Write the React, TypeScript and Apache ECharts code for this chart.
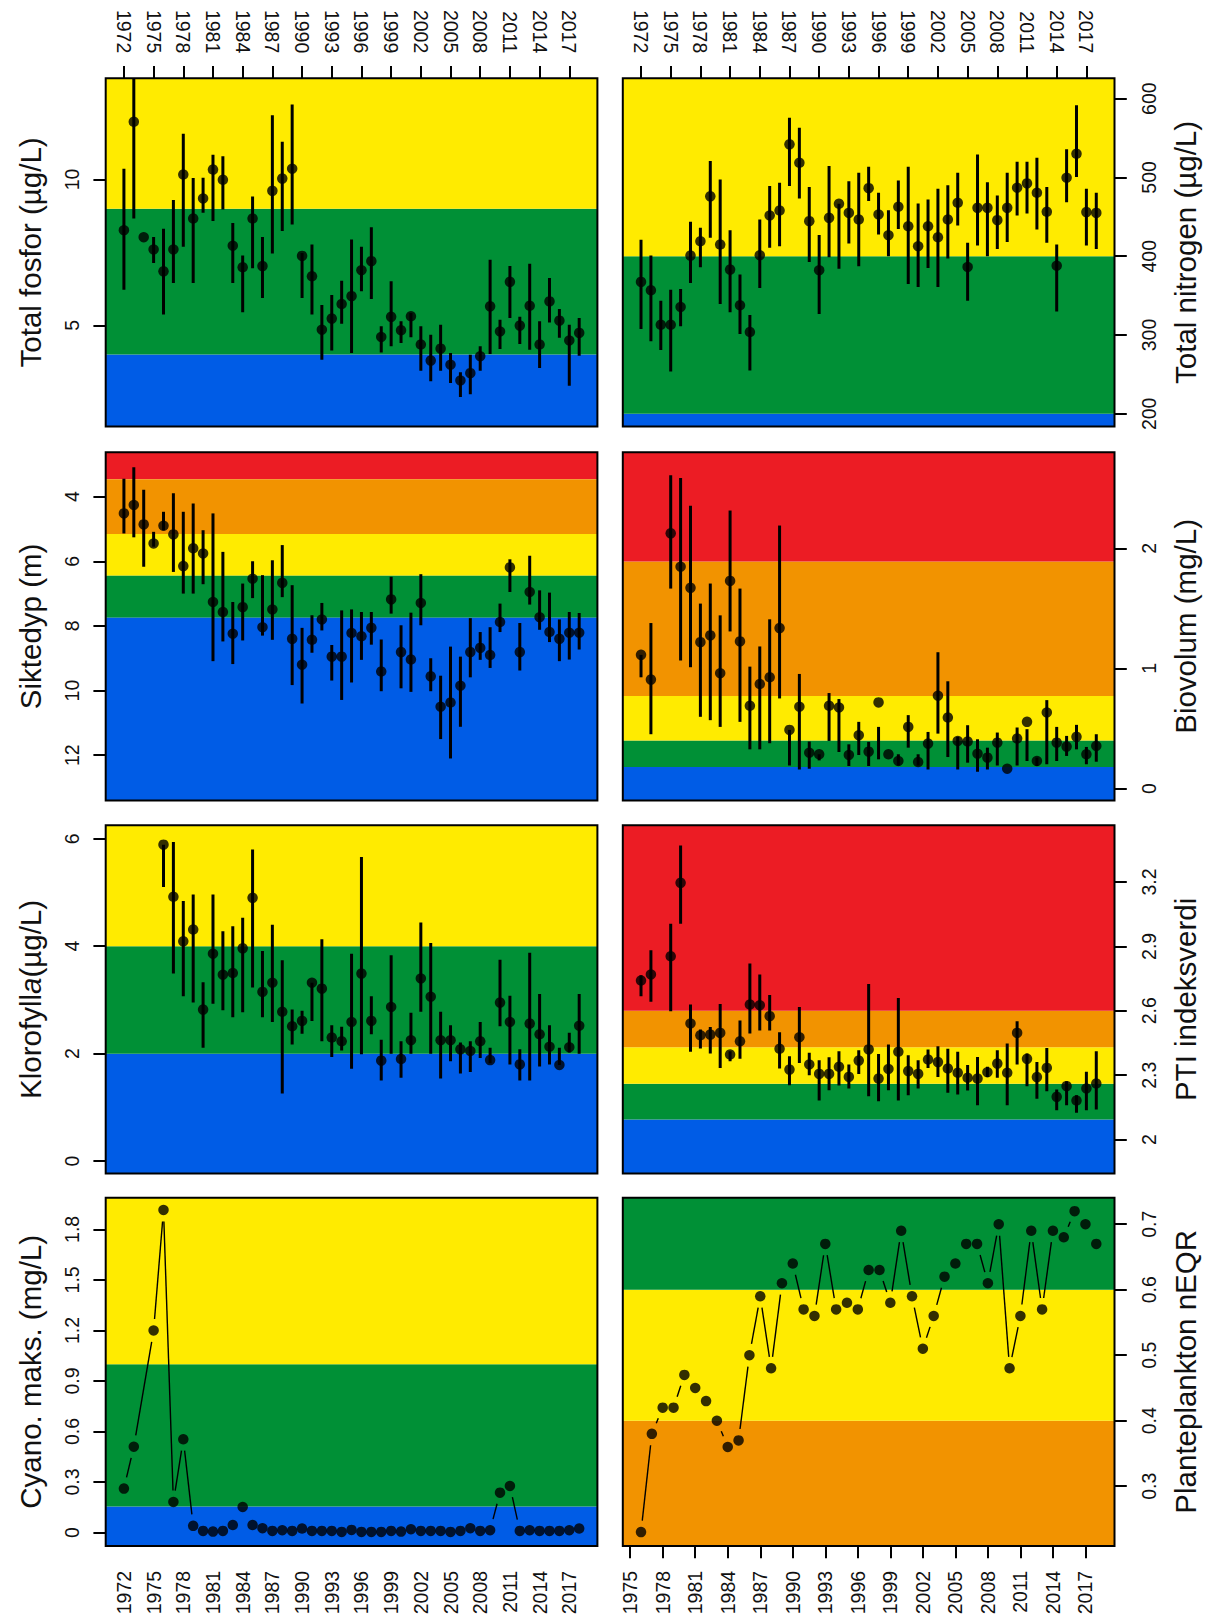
import React, { useEffect, useRef } from "react";
import * as echarts from "echarts";

const BLUE = "#005CE6";
const GREEN = "#009036";
const YELLOW = "#FFEB00";
const ORANGE = "#F29300";
const RED = "#EC1C24";
const FONT = "'Liberation Sans', Arial, Helvetica, sans-serif";

// ---------- years ----------
const yearsFull = [1972, 1973, 1974, 1975, 1976, 1977, 1978, 1979, 1980, 1981, 1982, 1983, 1984, 1985, 1986, 1987, 1988, 1989, 1990, 1991, 1992, 1993, 1994, 1995, 1996, 1997, 1998, 1999, 2000, 2001, 2002, 2003, 2004, 2005, 2006, 2007, 2008, 2009, 2010, 2011, 2012, 2013, 2014, 2015, 2016, 2017, 2018];
const yearsNo1974 = [1972, 1973, 1975, 1976, 1977, 1978, 1979, 1980, 1981, 1982, 1983, 1984, 1985, 1986, 1987, 1988, 1989, 1990, 1991, 1992, 1993, 1994, 1995, 1996, 1997, 1998, 1999, 2000, 2001, 2002, 2003, 2004, 2005, 2006, 2007, 2008, 2009, 2010, 2011, 2012, 2013, 2014, 2015, 2016, 2017, 2018];
const yearsFrom1976 = [1976, 1977, 1978, 1979, 1980, 1981, 1982, 1983, 1984, 1985, 1986, 1987, 1988, 1989, 1990, 1991, 1992, 1993, 1994, 1995, 1996, 1997, 1998, 1999, 2000, 2001, 2002, 2003, 2004, 2005, 2006, 2007, 2008, 2009, 2010, 2011, 2012, 2013, 2014, 2015, 2016, 2017, 2018];

const yearTicks = [1972, 1975, 1978, 1981, 1984, 1987, 1990, 1993, 1996, 1999, 2002, 2005, 2008, 2011, 2014, 2017];
const eqrYearTicks = [1975, 1978, 1981, 1984, 1987, 1990, 1993, 1996, 1999, 2002, 2005, 2008, 2011, 2014, 2017];

// ---------- Total fosfor ----------
const tpMean = [8.26, 11.98, 8.02, 7.6, 6.85, 7.6, 10.17, 8.66, 9.35, 10.34, 9.99, 7.73, 6.99, 8.66, 7.03, 9.61, 10.03, 10.37, 7.38, 6.68, 4.85, 5.23, 5.73, 6.0, 6.89, 7.2, 4.6, 5.29, 4.83, 5.31, 4.34, 3.79, 4.2, 3.65, 3.11, 3.36, 3.94, 5.65, 4.79, 6.49, 4.99, 5.67, 4.34, 5.82, 5.16, 4.48, 4.74];
const tpHi = [10.37, 14.5, 8.02, 8.03, 8.31, 9.3, 11.57, 10.05, 10.06, 10.85, 10.8, 8.51, 7.39, 9.42, 8.03, 12.2, 11.29, 12.57, 7.48, 7.77, 5.7, 6.04, 6.53, 7.94, 7.69, 8.36, 4.97, 6.51, 5.14, 5.42, 4.97, 4.68, 5.02, 4.05, 3.39, 3.99, 4.28, 7.25, 5.19, 7.03, 5.29, 7.11, 5.14, 6.62, 5.56, 5.02, 5.25];
const tpLo = [6.22, 8.66, 8.02, 7.14, 5.37, 6.45, 7.69, 6.45, 8.86, 8.58, 8.97, 6.45, 5.45, 6.96, 5.94, 7.46, 8.23, 8.46, 5.94, 5.37, 3.82, 4.14, 5.05, 4.05, 6.17, 5.9, 4.07, 4.28, 4.39, 4.59, 3.44, 3.08, 3.44, 3.02, 2.54, 2.64, 3.44, 4.02, 4.19, 5.25, 4.36, 4.16, 3.54, 5.1, 4.57, 2.93, 3.96];
const tpTicks = [5, 10];
const tpBreaks = [4, 9];

// ---------- Total nitrogen ----------
const tnMean = [367.4, 356.8, 313, 313, 335.6, 400.8, 419, 476, 414.8, 383, 337.7, 303.8, 401.3, 451.7, 458, 542, 518.6, 444.5, 382.2, 448.7, 466.5, 455, 446.6, 486.4, 453, 426.7, 462.7, 438, 412.7, 438, 424, 446.6, 467.8, 386.4, 461.4, 461.4, 445.8, 461.4, 486.9, 492.4, 480.5, 456.4, 388, 499.6, 530, 456, 455];
const tnHi = [421, 400.8, 343.6, 357.6, 358.5, 443.6, 436, 520.8, 497.5, 433, 376.7, 325.4, 446.6, 489, 493.2, 575.8, 563, 487.7, 427, 514.4, 466.5, 495, 506, 513.6, 480.5, 458.5, 496, 513.6, 467, 472, 485.6, 490, 506, 417, 529, 494, 477, 506, 520, 520, 525, 487.7, 414.8, 535.6, 591.5, 485.6, 480.5];
const tnLo = [307.6, 292, 281, 253.8, 311, 366, 386, 423.3, 339.4, 328.8, 301.3, 255, 359.7, 410.6, 412.7, 489, 473.3, 392.8, 326.7, 398.7, 384, 416, 387.3, 470, 427.5, 400, 434.7, 364.8, 361, 385, 361, 397, 439, 343.6, 413.6, 400, 409.3, 418, 451.7, 454.2, 434, 417, 330, 468.6, 500.4, 413.6, 409.3];
const tnTicks = [200, 300, 400, 500, 600];
const tnBreaks = [200, 400];

// ---------- Siktedyp ----------
const sdMean = [4.52, 4.26, 4.86, 5.45, 4.9, 5.17, 6.15, 5.6, 5.76, 7.26, 7.57, 8.24, 7.42, 6.54, 8.04, 7.49, 6.67, 8.4, 9.2, 8.43, 7.8, 8.95, 8.95, 8.22, 8.32, 8.06, 9.41, 7.18, 8.81, 9.04, 7.29, 9.56, 10.5, 10.37, 9.85, 8.81, 8.68, 8.9, 7.88, 6.19, 8.81, 6.95, 7.73, 8.19, 8.4, 8.21, 8.21];
const sdTop = [3.45, 3.09, 3.79, 5.09, 4.47, 3.9, 4.47, 4.21, 5.04, 4.52, 5.71, 7.26, 6.69, 6.0, 6.43, 5.97, 5.5, 6.74, 8.06, 7.67, 7.29, 8.59, 7.52, 7.49, 7.57, 7.57, 8.42, 6.48, 7.98, 7.59, 6.4, 9.0, 9.54, 8.64, 8.95, 7.76, 8.19, 8.04, 7.31, 5.94, 7.91, 5.83, 6.9, 6.97, 7.8, 7.57, 7.6];
const sdBot = [5.14, 5.26, 6.17, 5.55, 5.04, 6.33, 7.0, 7.0, 6.71, 9.09, 8.48, 9.18, 8.45, 7.14, 8.3, 8.43, 7.11, 9.83, 10.4, 8.83, 8.14, 9.69, 10.29, 9.75, 9.05, 8.58, 10.02, 7.62, 9.93, 10.04, 7.98, 10.02, 11.5, 12.1, 11.12, 9.59, 9.05, 9.3, 8.19, 6.95, 9.38, 7.34, 8.12, 8.5, 9.09, 9.04, 8.73];
const sdTicks = [4, 6, 8, 10, 12];
const sdBreaks = [3.46, 5.16, 6.45, 7.75];

// ---------- Biovolum ----------
const bvMean = [1.113, 0.907, 2.125, 1.847, 1.671, 1.219, 1.275, 0.96, 1.729, 1.225, 0.689, 0.87, 0.926, 1.336, 0.488, 0.681, 0.298, 0.285, 0.689, 0.675, 0.279, 0.444, 0.307, 0.717, 0.285, 0.229, 0.513, 0.22, 0.374, 0.773, 0.591, 0.396, 0.391, 0.29, 0.257, 0.382, 0.165, 0.416, 0.555, 0.229, 0.633, 0.382, 0.349, 0.43, 0.285, 0.354];
const bvHi = [1.113, 1.378, 2.608, 2.586, 2.354, 1.54, 1.707, 1.442, 2.315, 1.665, 1.015, 1.183, 1.409, 2.19, 0.488, 0.954, 0.391, 0.285, 0.795, 0.745, 0.368, 0.555, 0.388, 0.513, 0.285, 0.285, 0.611, 0.285, 0.471, 1.135, 0.893, 0.43, 0.527, 0.41, 0.34, 0.466, 0.165, 0.508, 0.494, 0.257, 0.736, 0.513, 0.438, 0.53, 0.346, 0.452];
const bvLo = [0.926, 0.452, 1.665, 1.066, 1.01, 0.597, 0.569, 0.513, 1.308, 0.555, 0.326, 0.326, 0.377, 0.75, 0.192, 0.159, 0.165, 0.234, 0.396, 0.304, 0.187, 0.279, 0.187, 0.243, 0.285, 0.192, 0.34, 0.192, 0.159, 0.457, 0.262, 0.159, 0.215, 0.139, 0.159, 0.192, 0.165, 0.192, 0.229, 0.187, 0.201, 0.229, 0.271, 0.326, 0.201, 0.223];
const bvTicks = [0, 1, 2];
const bvBreaks = [0.18, 0.4, 0.77, 1.89];

// ---------- Klorofyll a ----------
const chlMean = [5.89, 4.92, 4.09, 4.31, 2.82, 3.86, 3.47, 3.5, 3.96, 4.9, 3.15, 3.32, 2.78, 2.51, 2.61, 3.32, 3.21, 2.3, 2.23, 2.59, 3.49, 2.61, 1.87, 2.87, 1.9, 2.25, 3.4, 3.06, 2.25, 2.25, 2.08, 2.05, 2.23, 1.88, 2.95, 2.59, 1.8, 2.56, 2.36, 2.13, 1.79, 2.12, 2.52];
const chlHi = [5.89, 5.94, 4.84, 4.96, 3.33, 4.96, 4.28, 4.37, 4.53, 5.8, 3.91, 4.4, 3.74, 2.82, 2.8, 3.32, 4.13, 2.53, 2.5, 3.86, 5.66, 3.07, 2.26, 3.83, 2.23, 2.76, 4.44, 4.06, 2.78, 2.53, 2.21, 2.23, 2.59, 2.11, 3.75, 3.08, 2.08, 3.88, 3.11, 2.53, 2.11, 2.39, 3.11];
const chlLo = [5.1, 3.49, 3.07, 2.95, 2.11, 2.93, 2.81, 2.68, 2.77, 3.23, 2.68, 2.59, 1.26, 2.17, 2.37, 2.61, 2.23, 1.94, 2.06, 1.72, 1.99, 2.36, 1.5, 2.0, 1.55, 2.0, 2.78, 2.0, 1.54, 1.86, 1.63, 1.66, 1.92, 1.82, 2.51, 1.8, 1.5, 1.5, 1.76, 1.8, 1.79, 2.02, 2.0];
const chlTicks = [0, 2, 4, 6];
const chlBreaks = [2, 4];

// ---------- PTI ----------
const ptiMean = [2.741, 2.769, 2.854, 3.196, 2.541, 2.486, 2.489, 2.497, 2.396, 2.458, 2.629, 2.626, 2.575, 2.423, 2.326, 2.477, 2.35, 2.306, 2.306, 2.339, 2.292, 2.368, 2.42, 2.284, 2.329, 2.409, 2.319, 2.306, 2.373, 2.361, 2.331, 2.311, 2.288, 2.284, 2.314, 2.354, 2.311, 2.497, 2.376, 2.291, 2.334, 2.199, 2.249, 2.182, 2.238, 2.261];
const ptiHi = [2.766, 2.882, 3.005, 3.37, 2.629, 2.513, 2.524, 2.632, 2.412, 2.555, 2.82, 2.769, 2.673, 2.5, 2.388, 2.618, 2.404, 2.37, 2.384, 2.412, 2.35, 2.416, 2.725, 2.399, 2.443, 2.66, 2.393, 2.37, 2.42, 2.435, 2.423, 2.409, 2.347, 2.385, 2.339, 2.416, 2.447, 2.551, 2.401, 2.361, 2.427, 2.233, 2.272, 2.207, 2.316, 2.412];
const ptiLo = [2.668, 2.642, 2.598, 3.005, 2.409, 2.424, 2.401, 2.334, 2.365, 2.376, 2.494, 2.508, 2.508, 2.331, 2.253, 2.357, 2.3, 2.182, 2.23, 2.252, 2.238, 2.306, 2.202, 2.179, 2.23, 2.182, 2.207, 2.238, 2.334, 2.291, 2.218, 2.21, 2.229, 2.16, 2.291, 2.288, 2.16, 2.35, 2.249, 2.19, 2.225, 2.137, 2.16, 2.125, 2.137, 2.14];
const ptiTicks = [2, 2.3, 2.6, 2.9, 3.2];
const ptiBreaks = [2.093, 2.26, 2.43, 2.6];

// ---------- Cyano maks ----------
const cyVals = [0.261, 0.51, 1.2, 1.915, 0.182, 0.554, 0.04, 0.01, 0.006, 0.01, 0.045, 0.152, 0.045, 0.026, 0.01, 0.014, 0.01, 0.024, 0.01, 0.01, 0.01, 0.004, 0.016, 0.004, 0.004, 0.004, 0.01, 0.006, 0.02, 0.01, 0.01, 0.01, 0.004, 0.01, 0.026, 0.01, 0.014, 0.237, 0.277, 0.01, 0.014, 0.01, 0.01, 0.01, 0.014, 0.024];
const cyTicks = [0, 0.3, 0.6, 0.9, 1.2, 1.5, 1.8];
const cyBreaks = [0.155, 1.0];

// ---------- Planteplankton nEQR ----------
const eqrVals = [0.23, 0.38, 0.42, 0.42, 0.47, 0.45, 0.43, 0.4, 0.36, 0.37, 0.5, 0.59, 0.48, 0.61, 0.64, 0.57, 0.56, 0.67, 0.57, 0.58, 0.57, 0.63, 0.63, 0.58, 0.69, 0.59, 0.51, 0.56, 0.62, 0.64, 0.67, 0.67, 0.61, 0.7, 0.48, 0.56, 0.69, 0.57, 0.69, 0.68, 0.72, 0.7, 0.67];
const eqrTicks = [0.3, 0.4, 0.5, 0.6, 0.7];
const eqrBreaks = [0.4, 0.6];

// ---------- layout ----------
const COL_LEFT = [105.7, 622.8];
const PANEL_W = 491.7;
const ROW_TOP = [78.3, 452.3, 825.3, 1197.7];
const PANEL_H = 348.2;
const TICK_LEN = 12.3;
const LABEL_SIZE = 19.5;
const NAME_SIZE = 29.5;
const GAP = 11.5;

type Panel = {
  col: number;
  row: number;
  xRange: [number, number];
  xTicks: number[];
  xMode: "top" | "bottom" | "ticks" | "none";
  yRange: [number, number];
  yTicks: number[];
  inverse?: boolean;
  name: string;
  rich?: boolean;
  breaks: number[];
  colors: string[];
  kind: "err" | "line";
  years: number[];
  mean: number[];
  lo?: number[];
  hi?: number[];
};

const X_MAIN: [number, number] = [1970.16, 2019.84];
const X_EQR: [number, number] = [1974.32, 2019.68];

const panels: Panel[] = [
  { col: 0, row: 0, xRange: X_MAIN, xTicks: yearTicks, xMode: "top", yRange: [1.53, 13.47], yTicks: tpTicks, name: "Total fosfor (µg/L)", breaks: tpBreaks, colors: [BLUE, GREEN, YELLOW], kind: "err", years: yearsFull, mean: tpMean, lo: tpLo, hi: tpHi },
  { col: 1, row: 0, xRange: X_MAIN, xTicks: yearTicks, xMode: "top", yRange: [183.9, 625.8], yTicks: tnTicks, name: "Total nitrogen (µg/L)", breaks: tnBreaks, colors: [BLUE, GREEN, YELLOW], kind: "err", years: yearsFull, mean: tnMean, lo: tnLo, hi: tnHi },
  { col: 0, row: 1, xRange: X_MAIN, xTicks: yearTicks, xMode: "none", yRange: [2.63, 13.4], yTicks: sdTicks, inverse: true, name: "Siktedyp (m)", breaks: sdBreaks, colors: [RED, ORANGE, YELLOW, GREEN, BLUE], kind: "err", years: yearsFull, mean: sdMean, lo: sdTop, hi: sdBot },
  { col: 1, row: 1, xRange: X_MAIN, xTicks: yearTicks, xMode: "none", yRange: [-0.1, 2.8], yTicks: bvTicks, name: "Biovolum (mg/L)", breaks: bvBreaks, colors: [BLUE, GREEN, YELLOW, ORANGE, RED], kind: "err", years: yearsNo1974, mean: bvMean, lo: bvLo, hi: bvHi },
  { col: 0, row: 2, xRange: X_MAIN, xTicks: yearTicks, xMode: "ticks", yRange: [-0.23, 6.25], yTicks: chlTicks, name: "{n|Klorofyll}{i|a}{n|(µg/L)}", rich: true, breaks: chlBreaks, colors: [BLUE, GREEN, YELLOW], kind: "err", years: yearsFrom1976, mean: chlMean, lo: chlLo, hi: chlHi },
  { col: 1, row: 2, xRange: X_MAIN, xTicks: yearTicks, xMode: "none", yRange: [1.842, 3.464], yTicks: ptiTicks, name: "PTI indeksverdi", breaks: ptiBreaks, colors: [BLUE, GREEN, YELLOW, ORANGE, RED], kind: "err", years: yearsNo1974, mean: ptiMean, lo: ptiLo, hi: ptiHi },
  { col: 0, row: 3, xRange: X_MAIN, xTicks: yearTicks, xMode: "bottom", yRange: [-0.079, 1.988], yTicks: cyTicks, name: "Cyano. maks. (mg/L)", breaks: cyBreaks, colors: [BLUE, GREEN, YELLOW], kind: "line", years: yearsNo1974, mean: cyVals },
  { col: 1, row: 3, xRange: X_EQR, xTicks: eqrYearTicks, xMode: "bottom", yRange: [0.2089, 0.7405], yTicks: eqrTicks, name: "Planteplankton nEQR", breaks: eqrBreaks, colors: [ORANGE, YELLOW, GREEN], kind: "line", years: yearsFrom1976, mean: eqrVals },
];

function buildOption() {
  const grid: any[] = [];
  const xAxis: any[] = [];
  const yAxis: any[] = [];
  const series: any[] = [];
  const graphic: any[] = [];

  panels.forEach((p, i) => {
    const left = COL_LEFT[p.col];
    const top = ROW_TOP[p.row];
    grid.push({ left, top, width: PANEL_W, height: PANEL_H, containLabel: false });

    const showTicks = p.xMode !== "none";
    const showLabels = p.xMode === "top" || p.xMode === "bottom";
    xAxis.push({
      type: "value",
      gridIndex: i,
      min: p.xRange[0],
      max: p.xRange[1],
      position: p.xMode === "top" ? "top" : "bottom",
      splitLine: { show: false },
      axisLine: { show: false },
      axisTick: {
        show: showTicks,
        inside: false,
        length: TICK_LEN,
        customValues: p.xTicks,
        lineStyle: { color: "#000", width: 2 },
      },
      axisLabel: {
        show: showLabels,
        customValues: p.xTicks,
        rotate: 90,
        margin: 25,
        fontSize: LABEL_SIZE,
        fontFamily: FONT,
        color: "#111",
        formatter: (v: number) => String(v),
      },
    });

    const nameStyle: any = { fontSize: NAME_SIZE, fontFamily: FONT, color: "#111" };
    if (p.rich) {
      nameStyle.rich = {
        n: { fontSize: NAME_SIZE, fontFamily: FONT, color: "#111" },
        i: { fontSize: NAME_SIZE, fontFamily: FONT, color: "#111", fontStyle: "italic" },
      };
    }
    yAxis.push({
      type: "value",
      gridIndex: i,
      min: p.yRange[0],
      max: p.yRange[1],
      inverse: !!p.inverse,
      position: p.col === 0 ? "left" : "right",
      name: p.name,
      nameLocation: "middle",
      nameRotate: 90,
      nameGap: p.col === 0 ? 60 : 56,
      nameTextStyle: nameStyle,
      splitLine: { show: false },
      axisLine: { show: false },
      axisTick: {
        show: true,
        inside: false,
        length: TICK_LEN,
        customValues: p.yTicks,
        lineStyle: { color: "#000", width: 2 },
      },
      axisLabel: {
        show: true,
        customValues: p.yTicks,
        rotate: 90,
        margin: 24,
        fontSize: LABEL_SIZE,
        fontFamily: FONT,
        color: "#111",
        formatter: (v: number) => String(v),
      },
    });

    // background bands
    const edges = [p.yRange[0], ...p.breaks, p.yRange[1]];
    const bandData = p.colors.map((c, k) => [edges[k], edges[k + 1], k]);
    const colors = p.colors;
    const xRef = p.xRange[0];
    series.push({
      type: "custom",
      xAxisIndex: i,
      yAxisIndex: i,
      silent: true,
      z: 1,
      data: bandData,
      renderItem: (params: any, api: any) => {
        const cs = params.coordSys;
        const a = api.coord([xRef, api.value(0)])[1];
        const b = api.coord([xRef, api.value(1)])[1];
        const y0 = Math.max(Math.min(a, b), cs.y);
        const y1 = Math.min(Math.max(a, b), cs.y + cs.height);
        return {
          type: "rect",
          shape: { x: cs.x, y: y0, width: cs.width, height: Math.max(0, y1 - y0) },
          style: { fill: colors[api.value(2)] },
        };
      },
    });

    if (p.kind === "err") {
      const errData = p.years.map((y, k) => [y, p.lo![k], p.hi![k]]);
      series.push({
        type: "custom",
        xAxisIndex: i,
        yAxisIndex: i,
        silent: true,
        clip: true,
        z: 3,
        data: errData,
        renderItem: (params: any, api: any) => {
          const cs = params.coordSys;
          const pa = api.coord([api.value(0), api.value(1)]);
          const pb = api.coord([api.value(0), api.value(2)]);
          const y0 = Math.max(Math.min(pa[1], pb[1]), cs.y);
          const y1 = Math.min(Math.max(pa[1], pb[1]), cs.y + cs.height);
          return {
            type: "line",
            shape: { x1: pa[0], y1: y0, x2: pa[0], y2: y1 },
            style: { stroke: "#000", lineWidth: 3 },
          };
        },
      });
    } else {
      const segData = p.years.slice(0, -1).map((y, k) => [y, p.mean[k], p.years[k + 1], p.mean[k + 1]]);
      series.push({
        type: "custom",
        xAxisIndex: i,
        yAxisIndex: i,
        silent: true,
        clip: true,
        z: 3,
        data: segData,
        renderItem: (params: any, api: any) => {
          const p1 = api.coord([api.value(0), api.value(1)]);
          const p2 = api.coord([api.value(2), api.value(3)]);
          const dx = p2[0] - p1[0];
          const dy = p2[1] - p1[1];
          const L = Math.sqrt(dx * dx + dy * dy);
          if (L <= 2 * GAP) return { type: "group", children: [] };
          const ux = dx / L;
          const uy = dy / L;
          return {
            type: "line",
            shape: { x1: p1[0] + ux * GAP, y1: p1[1] + uy * GAP, x2: p2[0] - ux * GAP, y2: p2[1] - uy * GAP },
            style: { stroke: "#000", lineWidth: 1.4 },
          };
        },
      });
    }

    series.push({
      type: "scatter",
      xAxisIndex: i,
      yAxisIndex: i,
      silent: true,
      z: 4,
      symbol: "circle",
      symbolSize: 10.5,
      itemStyle: { color: "#000" },
      data: p.years.map((y, k) => [y, p.mean[k]]),
    });

    graphic.push({
      type: "rect",
      silent: true,
      z: 100,
      shape: { x: left, y: top, width: PANEL_W, height: PANEL_H },
      style: { fill: "none", stroke: "#000", lineWidth: 2 },
    });
  });

  return {
    animation: false,
    backgroundColor: "#fff",
    grid,
    xAxis,
    yAxis,
    series,
    graphic,
  };
}

export default function App() {
  const ref = useRef<HTMLDivElement>(null);
  useEffect(() => {
    if (!ref.current) return;
    const chart = echarts.init(ref.current, null, { renderer: "svg" });
    chart.setOption(buildOption() as any);
    return () => chart.dispose();
  }, []);
  return (
    <div
      ref={ref}
      style={{ position: "absolute", left: 0, top: 0, width: 1212, height: 1618, background: "#fff" }}
    />
  );
}
